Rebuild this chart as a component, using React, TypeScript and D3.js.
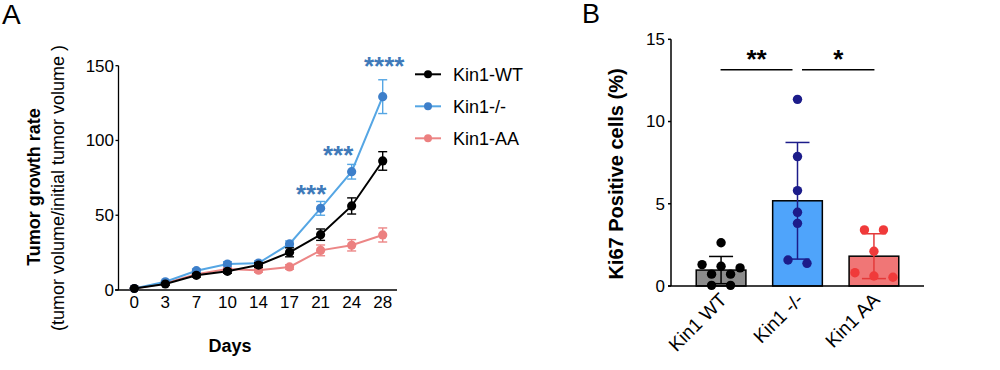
import { scaleLinear, scalePoint, scaleBand, line, mean, deviation } from 'd3'

// Panel A: tumor growth over time
const days = ['0', '3', '7', '10', '14', '17', '21', '24', '28']
const wtMean = [1, 4, 9.8, 12.5, 16.7, 25.2, 37, 56.2, 86.3]
const wtErr = [0.4, 0.8, 1.2, 1.3, 1.5, 3, 3.8, 5.4, 6.2]
const koMean = [1, 5.5, 12.9, 17.4, 18, 30.8, 54.6, 79.1, 129.3]
const koErr = [0.4, 0.8, 1.2, 1.5, 1.5, 2, 4.6, 4.9, 11.3]
const aaMean = [1, 4.5, 10.5, 14, 13.2, 15.4, 26.5, 29.9, 36.8]
const aaErr = [0.4, 0.8, 1, 1.2, 1.3, 1.5, 3.6, 3.8, 4.7]
const yTicksA = [0, 50, 100, 150]
// stars sit at a data-level (baseline) between two days
const starsA = [
  { between: ['17', '21'], y: 58, label: '***' },
  { between: ['21', '24'], y: 84.5, label: '***' },
  { between: ['28', '28'], y: 143.5, label: '****' },
]

// Panel B: Ki67 positive cells
const groups = ['Kin1 WT', 'Kin1 -/-', 'Kin1 AA']
const wtPoints = [2.63, 1.3, 1.2, 1.1, 0.72, 0.72, 0.04, 0.04]
const koPoints = [11.35, 7.87, 5.8, 4.48, 3.81, 1.58, 1.38]
const aaPoints = [3.41, 3.41, 2.11, 0.81, 0.53, 0.61]
const yTicksB = [0, 5, 10, 15]
const sigB = [
  { from: 'Kin1 WT', to: 'Kin1 -/-', label: '**' },
  { from: 'Kin1 -/-', to: 'Kin1 AA', label: '*' },
]

const FONT = '"Liberation Sans", Arial, Helvetica, sans-serif'

const seriesA = [
  { name: 'Kin1-AA', mean: aaMean, err: aaErr, line: '#ec8686', dot: '#ec8080' },
  { name: 'Kin1-/-', mean: koMean, err: koErr, line: '#55a6e4', dot: '#3d7fca' },
  { name: 'Kin1-WT', mean: wtMean, err: wtErr, line: '#000000', dot: '#000000' },
]
const legendOrder = ['Kin1-WT', 'Kin1-/-', 'Kin1-AA']
const starNudge = [6, 2, 1.5]

const barStyles = [
  { fill: '#8c8c8c', dot: '#000000', err: '#000000', points: wtPoints },
  { fill: '#4fa4fb', dot: '#1c1c8a', err: '#1c1c8a', points: koPoints },
  { fill: '#f07676', dot: '#f03a3a', err: '#e43a3a', points: aaPoints },
]

// simple row-based swarm: points whose pixel y are close share a row, centered
function swarm(vals: number[], y: (v: number) => number, rowH: number, step: number) {
  const sorted = vals.map((v, i) => ({ v, i })).sort((a, b) => b.v - a.v)
  const rows: { v: number; i: number }[][] = []
  for (const p of sorted) {
    const last = rows[rows.length - 1]
    if (last && Math.abs(y(last[0].v) - y(p.v)) < rowH) last.push(p)
    else rows.push([p])
  }
  const out: { v: number; dx: number }[] = []
  for (const r of rows) {
    r.forEach((p, k) => out.push({ v: p.v, dx: (k - (r.length - 1) / 2) * step }))
  }
  return out
}

function PanelA() {
  const x = scalePoint<string>().domain(days).range([134.3, 382.7])
  const y = scaleLinear().domain([0, 150]).range([290, 65.7])
  const path = line<number>()
    .x((_, i) => x(days[i])!)
    .y((d) => y(d))

  return (
    <g fontFamily={FONT}>
      <text x={2} y={24} fontSize={28}>A</text>

      {/* axes */}
      <line x1={118.5} x2={118.5} y1={y(150)} y2={y(0)} stroke="#000" strokeWidth={1.3} />
      <line x1={115} x2={397} y1={y(0)} y2={y(0)} stroke="#000" strokeWidth={1.3} />
      {yTicksA.map((t) => (
        <g key={t}>
          <line x1={115.5} x2={118.5} y1={y(t)} y2={y(t)} stroke="#000" strokeWidth={1.3} />
          <text x={114} y={y(t)} dy="0.35em" textAnchor="end" fontSize={17}>{t}</text>
        </g>
      ))}
      {days.map((d) => (
        <text key={d} x={x(d)} y={308} textAnchor="middle" fontSize={17}>{d}</text>
      ))}
      <text x={230} y={352} textAnchor="middle" fontSize={18} fontWeight="bold">Days</text>
      <text transform="translate(40,187) rotate(-90)" textAnchor="middle" fontSize={18} fontWeight="bold">
        Tumor growth rate
      </text>
      <text transform="translate(64,188) rotate(-90)" textAnchor="middle" fontSize={18}>
        (tumor volume/initial tumor volume )
      </text>

      {/* series */}
      {seriesA.map((s) => (
        <g key={s.name}>
          <path d={path(s.mean) ?? ''} fill="none" stroke={s.line} strokeWidth={2} />
          {s.mean.map((m, i) => {
            const cx = x(days[i])!
            const e = s.err[i]
            return (
              <g key={i}>
                <line x1={cx} x2={cx} y1={y(m - e)} y2={y(m + e)} stroke={s.line} strokeWidth={1.4} />
                <line x1={cx - 4.5} x2={cx + 4.5} y1={y(m - e)} y2={y(m - e)} stroke={s.line} strokeWidth={1.4} />
                <line x1={cx - 4.5} x2={cx + 4.5} y1={y(m + e)} y2={y(m + e)} stroke={s.line} strokeWidth={1.4} />
                <circle cx={cx} cy={y(m)} r={4.6} fill={s.dot} />
              </g>
            )
          })}
        </g>
      ))}

      {starsA.map((s, i) => (
        <text
          key={i}
          x={(x(s.between[0])! + x(s.between[1])!) / 2 + starNudge[i]}
          y={y(s.y)}
          textAnchor="middle"
          fontSize={26}
          fontWeight="bold"
          fill="#3f7ab9"
        >
          {s.label}
        </text>
      ))}

      {/* legend */}
      {legendOrder.map((name, i) => {
        const s = seriesA.find((d) => d.name === name)!
        const cy = 74.3 + i * 32
        return (
          <g key={name}>
            <line x1={415} x2={441} y1={cy} y2={cy} stroke={s.line} strokeWidth={2} />
            <circle cx={428} cy={cy} r={4} fill={s.dot} />
            <text x={453} y={cy} dy="0.36em" fontSize={18}>{name}</text>
          </g>
        )
      })}
    </g>
  )
}

function PanelB() {
  const x = scaleBand<string>().domain(groups).range([671, 924]).paddingInner(0.35).paddingOuter(0.33)
  const y = scaleLinear().domain([0, 15]).range([286, 39.3])
  const bw = x.bandwidth()

  return (
    <g fontFamily={FONT}>
      <text x={582} y={23} fontSize={27}>B</text>

      {barStyles.map((b, gi) => {
        const g = groups[gi]
        const x0 = x(g)!
        const cx = x0 + bw / 2
        const m = mean(b.points)!
        const sd = deviation(b.points)!
        const pts = swarm(b.points, y, 9.4, 19)
        return (
          <g key={g}>
            <rect x={x0} y={y(m)} width={bw} height={y(0) - y(m)} fill={b.fill} stroke="#000" strokeWidth={1.5} />
            <line x1={cx} x2={cx} y1={y(m - sd)} y2={y(m + sd)} stroke={b.err} strokeWidth={1.5} />
            <line x1={cx - 12} x2={cx + 12} y1={y(m + sd)} y2={y(m + sd)} stroke={b.err} strokeWidth={1.5} />
            <line x1={cx - 12} x2={cx + 12} y1={y(m - sd)} y2={y(m - sd)} stroke={b.err} strokeWidth={1.5} />
            {pts.map((p, k) => (
              <circle key={k} cx={cx + p.dx} cy={y(p.v)} r={4.7} fill={b.dot} />
            ))}
          </g>
        )
      })}

      {/* axes */}
      <line x1={671} x2={671} y1={y(15)} y2={y(0)} stroke="#000" strokeWidth={1.5} />
      <line x1={668} x2={924} y1={y(0)} y2={y(0)} stroke="#000" strokeWidth={1.5} />
      {yTicksB.map((t) => (
        <g key={t}>
          <line x1={668} x2={671} y1={y(t)} y2={y(t)} stroke="#000" strokeWidth={1.5} />
          <text x={665} y={y(t)} dy="0.35em" textAnchor="end" fontSize={17}>{t}</text>
        </g>
      ))}
      {groups.map((g) => (
        <text
          key={g}
          transform={`translate(${x(g)! + bw / 2 + 7},${y(0) + 15}) rotate(-45)`}
          textAnchor="end"
          fontSize={19}
        >
          {g}
        </text>
      ))}
      <text transform="translate(622.5,174) rotate(-90)" textAnchor="middle" fontSize={20} fontWeight="bold">
        Ki67 Positive cells (%)
      </text>

      {sigB.map((s, i) => {
        const a = x(s.from)! + bw / 2
        const b = x(s.to)! + bw / 2
        const x1 = i === 0 ? a - 0.5 : a + 4.5
        const x2 = i === 0 ? b - 5 : b + 0.5
        return (
          <g key={i}>
            <line x1={x1} x2={x2} y1={69.7} y2={69.7} stroke="#000" strokeWidth={1.5} />
            <text x={(x1 + x2) / 2} y={68} textAnchor="middle" fontSize={26} fontWeight="bold">{s.label}</text>
          </g>
        )
      })}
    </g>
  )
}

export default function App() {
  return (
    <div style={{ position: 'absolute', left: 0, top: 0 }}>
      <svg width={1000} height={370} style={{ display: 'block', background: '#fff' }}>
        <PanelA />
        <PanelB />
      </svg>
    </div>
  )
}
